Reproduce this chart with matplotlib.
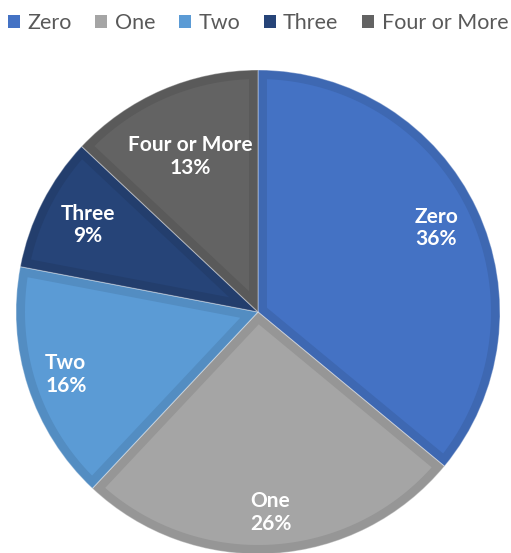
import numpy as np
import matplotlib.pyplot as plt
from matplotlib.patches import Patch, Polygon

labels = ['Zero', 'One', 'Two', 'Three', 'Four or More']
shares = [36, 26, 16, 9, 13]
colors = ['#4472C4', '#A5A5A5', '#5B9BD5', '#264478', '#636363']
label_r = [0.815, 0.83, 0.835, 0.79, 0.70]  # radial spot of each data label

plt.rcParams['font.family'] = ['Lato', 'DejaVu Sans']

fig = plt.figure(figsize=(5.11, 5.53), dpi=100)
ax = fig.add_axes([0, 0, 1, 1])

cx, cy, R = 258, 241, 242
d = 9  # width of the darker rim, in pixels (= data units here)

def darker(c, k=0.91):
    return tuple(np.array(plt.matplotlib.colors.to_rgb(c)) * k)

wedges, _ = ax.pie(shares, colors=[darker(c) for c in colors], startangle=90,
                   counterclock=False, center=(cx, cy), radius=R, frame=True,
                   wedgeprops=dict(linewidth=0.8, edgecolor=(1, 1, 1, 0.35)))
ax.set_xlim(0, 511)
ax.set_ylim(0, 553)
ax.axis('off')

# lighter inner part of each slice (excel style rim)
for w, c in zip(wedges, colors):
    t1, t2 = np.deg2rad(w.theta1), np.deg2rad(w.theta2)
    half = (t2 - t1) / 2
    mid = t1 + half
    apex = (cx + d / np.sin(half) * np.cos(mid), cy + d / np.sin(half) * np.sin(mid))
    r2 = R - d
    da = np.arcsin(d / r2)
    arc = np.linspace(t1 + da, t2 - da, 100)
    pts = [apex] + list(zip(cx + r2 * np.cos(arc), cy + r2 * np.sin(arc)))
    ax.add_patch(Polygon(pts, closed=True, facecolor=c, edgecolor='none'))

for w, lab, s, f in zip(wedges, labels, shares, label_r):
    ang = np.deg2rad((w.theta1 + w.theta2) / 2)
    x = cx + f * R * np.cos(ang)
    y = cy + f * R * np.sin(ang)
    ax.text(x, y, f'{lab}\n{s}%', ha='center', va='center', color='white',
            fontsize=15, fontweight='bold', linespacing=1.15)

handles = [Patch(facecolor=c, edgecolor='none') for c in colors]
fig.legend(handles, labels, loc='upper center', bbox_to_anchor=(0.505, 1.012), ncol=5,
           frameon=False, fontsize=15.5, handlelength=0.55, handleheight=0.55,
           handletextpad=0.35, columnspacing=1.1, labelcolor='#595959')

fig.savefig('out.png', dpi=100)
